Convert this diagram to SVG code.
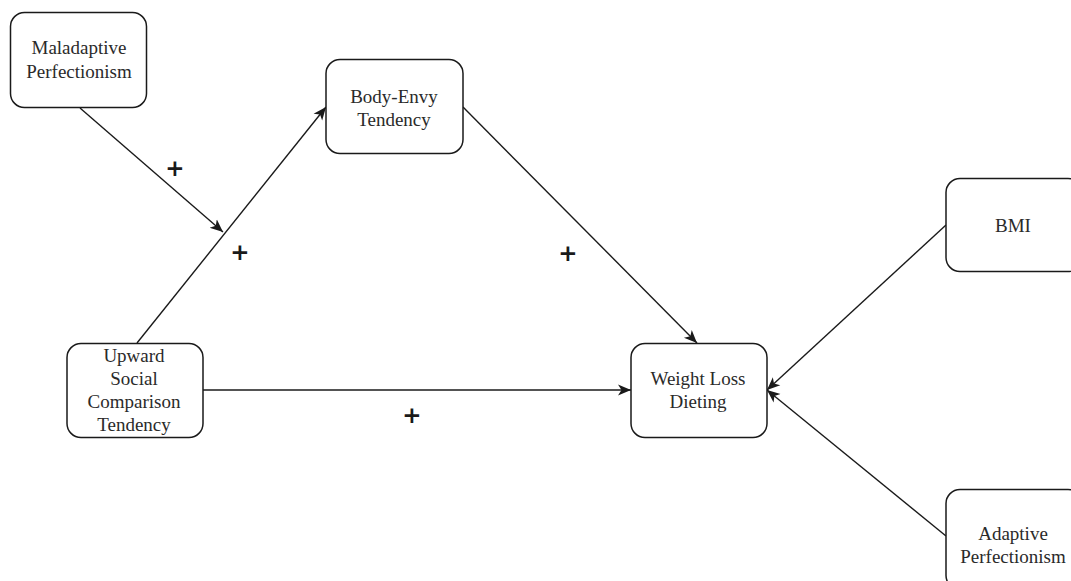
<svg xmlns="http://www.w3.org/2000/svg" width="1071" height="581" viewBox="0 0 1071 581">
<defs>
<style>
.box{fill:#fff;stroke:#1a1a1a;stroke-width:1.5}
.lbl{font-family:"Liberation Serif","Times New Roman",serif;font-size:19px;fill:#2a2a2a;text-anchor:middle}
.edge{stroke:#1a1a1a;stroke-width:1.4;fill:none;marker-end:url(#arr)}
.plus{font-family:"DejaVu Sans",sans-serif;font-size:23px;font-weight:bold;fill:#1a1a1a;text-anchor:middle;dominant-baseline:central}
</style>
<marker id="arr" markerUnits="userSpaceOnUse" markerWidth="16" markerHeight="14" refX="13" refY="6" orient="auto" viewBox="0 0 16 12">
<path d="M0,0.5 L13,6 L0,11.5 L3.5,6 Z" fill="#1a1a1a"/>
</marker>
</defs>
<rect width="1071" height="581" fill="#fff"/>
<g id="connectors">
<path class="edge" d="M80,108 L223,232"/>
<path class="edge" d="M137,343 L326,107"/>
<path class="edge" d="M463,107 L697,343"/>
<path class="edge" d="M203,390 L631,390"/>
<path class="edge" d="M946,225 L767,390"/>
<path class="edge" d="M946,536 L767,390"/>
<text class="plus" x="175" y="168">+</text>
<text class="plus" x="240" y="252">+</text>
<text class="plus" x="568" y="253">+</text>
<text class="plus" x="412" y="415">+</text>
</g>
<g id="maladaptive">
<rect class="box" x="10.5" y="12.5" width="136" height="95" rx="14"/>
<text class="lbl" x="79" y="54">Maladaptive</text>
<text class="lbl" x="79" y="78">Perfectionism</text>
</g>
<g id="bodyenvy">
<rect class="box" x="326" y="59.5" width="137" height="94" rx="14"/>
<text class="lbl" x="394" y="103">Body-Envy</text>
<text class="lbl" x="394" y="126">Tendency</text>
</g>
<g id="upward">
<rect class="box" x="67" y="343.5" width="136" height="94" rx="14"/>
<text class="lbl" x="134" y="362">Upward</text>
<text class="lbl" x="134" y="385">Social</text>
<text class="lbl" x="134" y="408">Comparison</text>
<text class="lbl" x="134" y="431">Tendency</text>
</g>
<g id="weightloss">
<rect class="box" x="631" y="343.5" width="136" height="94" rx="14"/>
<text class="lbl" x="698" y="385">Weight Loss</text>
<text class="lbl" x="698" y="408">Dieting</text>
</g>
<g id="bmi">
<rect class="box" x="946" y="178.5" width="136" height="93" rx="14"/>
<text class="lbl" x="1013" y="232">BMI</text>
</g>
<g id="adaptive">
<rect class="box" x="946" y="489.5" width="136" height="100" rx="14"/>
<text class="lbl" x="1013" y="540">Adaptive</text>
<text class="lbl" x="1013" y="563">Perfectionism</text>
</g>
</svg>
